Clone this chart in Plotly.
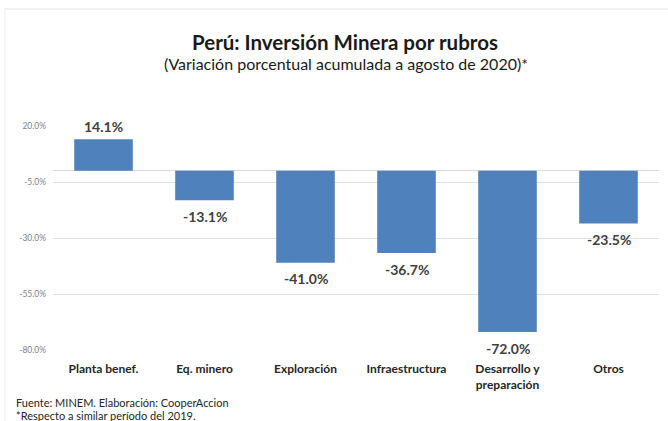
import plotly.graph_objects as go

categories = ["Planta benef.", "Eq. minero", "Exploración", "Infraestructura",
              "Desarrollo y<br>preparación", "Otros"]
values = [14.1, -13.1, -41.0, -36.7, -72.0, -23.5]
tick_vals = [20, -5, -30, -55, -80]
tick_text = ["20.0%", "-5.0%", "-30.0%", "-55.0%", "-80.0%"]

W, H = 668, 421
L, R, T, B = 53, 9, 126, 71
pw, ph = W - L - R, H - T - B

def px(x):
    return (x - L) / pw

def py(y):
    return (H - B - y) / ph

fig = go.Figure()
fig.add_trace(go.Bar(
    x=categories, y=values,
    marker=dict(color="#4f81bd", line=dict(width=0)),
    width=0.58,
    cliponaxis=False,
    hoverinfo="skip",
))

label_annotations = [
    dict(x=c, y=v, xref="x", yref="y", text=f"<b>{v:.1f}%</b>", showarrow=False,
         xanchor="center", yanchor="middle", yshift=(13 if v >= 0 else -16),
         font=dict(family="Lato", size=14, color="#404040"))
    for c, v in zip(categories, values)
]

fig.update_layout(
    width=W, height=H,
    margin=dict(l=L, r=R, t=T, b=B, autoexpand=False),
    paper_bgcolor="white", plot_bgcolor="white",
    showlegend=False,
    font=dict(family="Lato"),
    xaxis=dict(
        showgrid=False, showline=False, zeroline=False, ticks="",
        tickfont=dict(family="Lato", size=12, color="#262626", weight="bold"),
        ticklabelstandoff=10,
    ),
    yaxis=dict(
        range=[-80, 20], tickvals=tick_vals, ticktext=tick_text,
        showgrid=True, gridcolor="#e0e0e0", gridwidth=1,
        zeroline=True, zerolinecolor="#d9d9d9", zerolinewidth=1,
        showline=False, ticks="",
        tickfont=dict(family="Lato", size=8.5, color="#7f7f7f"),
        ticklabelstandoff=6,
    ),
    annotations=label_annotations + [
        dict(text="<b>Perú: Inversión Minera por rubros</b>", xref="paper", yref="paper",
             x=px(345), y=py(42), xanchor="center", yanchor="middle", showarrow=False,
             font=dict(family="Lato", size=20.5, color="#1a1a1a")),
        dict(text="(Variación porcentual acumulada a agosto de 2020)*", xref="paper", yref="paper",
             x=px(346), y=py(63), xanchor="center", yanchor="middle", showarrow=False,
             font=dict(family="Lato", size=16, color="#1a1a1a")),
        dict(text="Fuente: MINEM. Elaboración: CooperAccion", xref="paper", yref="paper",
             x=px(14), y=py(402), xanchor="left", yanchor="middle", showarrow=False,
             font=dict(family="Lato", size=11, color="#262626")),
        dict(text="*Respecto a similar período del 2019.", xref="paper", yref="paper",
             x=px(14), y=py(415), xanchor="left", yanchor="middle", showarrow=False,
             font=dict(family="Lato", size=11, color="#262626")),
    ],
    shapes=[
        dict(type="line", xref="paper", yref="paper", x0=px(5), x1=px(668), y0=py(9), y1=py(9),
             line=dict(color="#e4e4e4", width=1)),
        dict(type="line", xref="paper", yref="paper", x0=px(5), x1=px(5), y0=py(9), y1=py(421),
             line=dict(color="#ececec", width=1)),
    ],
)

fig.write_html("out.html", config={"displayModeBar": False},
               post_script="document.body.style.margin='0';document.body.style.overflow='hidden';")
